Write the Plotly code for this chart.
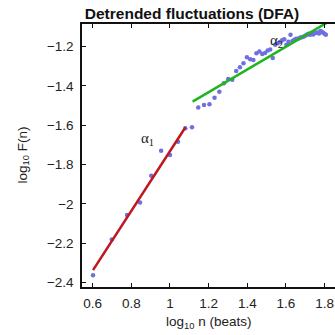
import numpy as np
import plotly.graph_objects as go

# window sizes (beats) and DFA fluctuation values log10 F(n)
n_beats = list(range(4, 65))
log_F = [
    -2.362, -2.18, -2.056, -1.992, -1.856, -1.729, -1.751, -1.683, -1.615, -1.61,
    -1.51, -1.497, -1.493, -1.46, -1.429, -1.386, -1.364, -1.369, -1.324, -1.305,
    -1.285, -1.254, -1.264, -1.268, -1.234, -1.225, -1.238, -1.232, -1.22, -1.215,
    -1.258, -1.19, -1.183, -1.176, -1.168, -1.163, -1.19, -1.175, -1.14, -1.172,
    -1.165, -1.16, -1.16, -1.155, -1.152, -1.15, -1.145, -1.14, -1.135, -1.14,
    -1.133, -1.138, -1.132, -1.13, -1.128, -1.133, -1.12, -1.125, -1.13, -1.135,
    -1.14,
]

# fitted lines (alpha1 short-term, alpha2 long-term)
fit1_x = [0.602, 1.08]
fit1_y = [-2.336, -1.61]
fit2_x = [1.117, 1.85]
fit2_y = [-1.48, -1.056]

x_ticks = [0.6, 0.8, 1.0, 1.2, 1.4, 1.6, 1.8]
x_ticktext = ["0.6", "0.8", "1", "1.2", "1.4", "1.6", "1.8"]
y_ticks = [-2.4, -2.2, -2.0, -1.8, -1.6, -1.4, -1.2]
y_ticktext = ["\u22122.4", "\u22122.2", "\u22122", "\u22121.8", "\u22121.6", "\u22121.4", "\u22121.2"]

x = np.log10(np.array(n_beats))

fig = go.Figure()
fig.add_trace(go.Scatter(x=x, y=log_F, mode="markers",
                         marker=dict(color="#6f6fe0", size=4.5), showlegend=False))
fig.add_trace(go.Scatter(x=fit1_x, y=fit1_y, mode="lines",
                         line=dict(color="#c0161e", width=2.5), showlegend=False))
fig.add_trace(go.Scatter(x=fit2_x, y=fit2_y, mode="lines",
                         line=dict(color="#1fb51f", width=2.5), showlegend=False))

W, H = 360, 335
L, R, T, B = 82, 16, 24, 48
pw = W - L - R
ph = H - T - B

FONT = "Liberation Sans, Arial"
axis_common = dict(showgrid=False, zeroline=False, showline=True, linecolor="#111",
                   linewidth=1.5, mirror="ticks", ticks="inside", ticklen=4,
                   tickcolor="#111", tickwidth=1,
                   tickfont=dict(family=FONT, size=13.5, color="#222"))

fig.update_xaxes(range=[0.545, 1.9], tickvals=x_ticks, ticktext=x_ticktext,
                 ticklabelstandoff=3, **axis_common)
fig.update_yaxes(range=[-2.422, -1.085], tickvals=y_ticks, ticktext=y_ticktext,
                 ticklabelstandoff=4, **axis_common)

fig.update_layout(
    width=W, height=H,
    margin=dict(l=L, r=R, t=T, b=B),
    paper_bgcolor="white", plot_bgcolor="white",
    title=dict(text="<b>Detrended fluctuations (DFA)</b>", x=192 / W, xref="container",
               xanchor="center", y=1 - 14 / H, yref="container", yanchor="middle",
               font=dict(family=FONT, size=15.5, color="#111")),
)

fig.add_annotation(text="log<sub>10</sub> F(n)", xref="paper", yref="paper",
                   x=(23 - L) / pw, y=0.5, textangle=-90, showarrow=False,
                   xanchor="center", yanchor="middle",
                   font=dict(family=FONT, size=13.5, color="#222"))
fig.add_annotation(text="log<sub>10</sub> n (beats)", xref="paper", yref="paper",
                   x=(209 - L) / pw, y=-(322 - (T + ph)) / ph, showarrow=False,
                   xanchor="center", yanchor="middle",
                   font=dict(family=FONT, size=13.5, color="#222"))
fig.add_annotation(text="\u03b1<sub>1</sub>", x=0.885, y=-1.67, showarrow=False,
                   font=dict(family="Liberation Serif, Times New Roman", size=15, color="#222"))
fig.add_annotation(text="\u03b1<sub>2</sub>", x=1.55, y=-1.17, showarrow=False,
                   font=dict(family="Liberation Serif, Times New Roman", size=15, color="#222"))

fig.write_html("out.html")
